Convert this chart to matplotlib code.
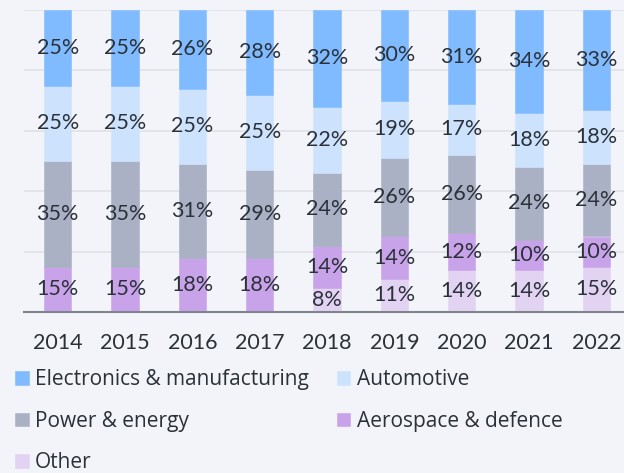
import matplotlib.pyplot as plt
import numpy as np

years = ["2014", "2015", "2016", "2017", "2018", "2019", "2020", "2021", "2022"]
other = [0, 0, 0, 0, 8, 11, 14, 14, 15]
aerospace = [15, 15, 18, 18, 14, 14, 12, 10, 10]
power = [35, 35, 31, 29, 24, 26, 26, 24, 24]
automotive = [25, 25, 25, 25, 22, 19, 17, 18, 18]
electronics = [25, 25, 26, 28, 32, 30, 31, 34, 33]

series = [
    ("Other", other, "#e3d3f3"),
    ("Aerospace & defence", aerospace, "#c9a3e9"),
    ("Power & energy", power, "#aab1c4"),
    ("Automotive", automotive, "#cde3fd"),
    ("Electronics & manufacturing", electronics, "#80bbff"),
]

bg = "#f3f4f9"
txt = "#2b3139"
fs = 15.5
plt.rcParams['font.family'] = ['Lato', 'DejaVu Sans']

fig = plt.figure(figsize=(6.24, 4.73), dpi=100, facecolor=bg)
ax = fig.add_axes([24 / 624, 161 / 473, 606 / 624, 302 / 473])
ax.set_facecolor(bg)

x = np.arange(len(years))
bottom = np.zeros(len(years))
handles = {}
for name, vals, color in series:
    vals = np.array(vals, dtype=float)
    bars = ax.bar(x, vals, bottom=bottom, width=0.41, color=color,
                  edgecolor=color, linewidth=0.4, zorder=2)
    handles[name] = bars
    for xi, b, v in zip(x, bottom, vals):
        if v > 0:
            ax.text(xi, b + v / 2, f"{int(v)}%", ha='center', va='center',
                    fontsize=fs, color=txt, zorder=3)
    bottom += vals

ax.set_xlim(-0.5, len(years) - 0.5)
ax.set_ylim(0, 100)
ax.set_yticks([0, 20, 40, 60, 80, 100])
ax.yaxis.grid(True, color="#e0e1e6", linewidth=1.2, zorder=0)
ax.tick_params(axis='y', left=False, labelleft=False)
ax.tick_params(axis='x', length=0, pad=15, labelsize=fs, labelcolor=txt)
ax.set_xticks(x)
ax.set_xticklabels(years)
for s in ["top", "right", "left"]:
    ax.spines[s].set_visible(False)
ax.spines["bottom"].set_color("#80858d")
ax.spines["bottom"].set_linewidth(1.5)
ax.spines["bottom"].set_zorder(4)

order = ["Electronics & manufacturing", "Power & energy", "Other",
         "Automotive", "Aerospace & defence"]
leg = fig.legend([handles[n] for n in order], order, ncol=2,
                 loc='upper left', bbox_to_anchor=(0.024, 0.219),
                 frameon=False, prop={'family': 'Open Sans', 'size': 15},
                 labelcolor=txt,
                 handlelength=0.65, handleheight=0.65, handletextpad=0.3,
                 labelspacing=0.98, columnspacing=1.35, borderaxespad=0,
                 borderpad=0)

fig.savefig("out.png", dpi=100, facecolor=bg)
